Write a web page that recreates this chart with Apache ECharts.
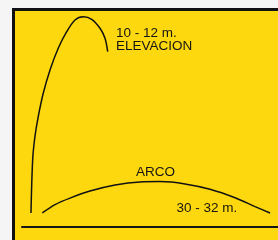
<!DOCTYPE html>
<html>
<head>
<meta charset="utf-8">
<script src="https://cdn.jsdelivr.net/npm/echarts@6/dist/echarts.min.js"></script>
<style>
  html, body { margin: 0; padding: 0; background: #f5f5f5; }
  #chart { width: 278px; height: 240px; }
</style>
</head>
<body>
<div id="chart"></div>
<script>
// trayectoria en metros [distancia, altura]
const elevacion = [
    [0, 0], [0.23, 3.25], [0.54, 4.67], [0.99, 5.9], [1.67, 7.33],
    [2.59, 8.76], [3.71, 10.09], [4.86, 11.1], [5.99, 11.82], [7.12, 12.02],
    [8.26, 11.86], [9.39, 11.31], [10.07, 10.7], [10.44, 9.88]
];
const arco = [
    [1.54, 0], [3.27, 0.51], [5.31, 0.91], [8.03, 1.34], [11.43, 1.71],
    [14.83, 1.9], [17.55, 1.92], [20.95, 1.78], [24.35, 1.45], [27.76, 0.93],
    [30.48, 0.39], [32.52, 0]
];
const labelElevacion = ['10 - 12 m.', 'ELEVACION'];
const labelArco = 'ARCO';
const labelDistancia = '30 - 32 m.';

const chart = echarts.init(document.getElementById('chart'));
const font = { fontFamily: 'Liberation Sans, Arial, sans-serif', fontSize: 13.5, fill: '#151515' };

function txt(text, x, y) {
    return {
        type: 'text', x: x, y: y, z: 10,
        style: Object.assign({ text: text, verticalAlign: 'middle' }, font)
    };
}

chart.setOption({
    animation: false,
    grid: { left: 22, right: 0, top: 11, bottom: 13 },
    xAxis: {
        type: 'value', min: -1.22, max: 33.6,
        axisLine: { show: true, onZero: false, lineStyle: { color: '#151515', width: 2 } },
        axisTick: { show: false }, axisLabel: { show: false }, splitLine: { show: false }
    },
    yAxis: {
        type: 'value', min: -0.86, max: 12.37, show: false
    },
    graphic: [
        {
            type: 'rect', z: -10,
            shape: { x: 13.5, y: 9.5, width: 300, height: 300 },
            style: { fill: '#fed80e', stroke: '#111', lineWidth: 3 }
        },
        txt(labelElevacion[0], 116, 33),
        txt(labelElevacion[1], 116, 46.5),
        txt(labelArco, 136, 172.5),
        txt(labelDistancia, 176.5, 208)
    ],
    series: [
        {
            name: 'elevacion', type: 'line', data: elevacion, smooth: 0.3,
            symbol: 'none', lineStyle: { color: '#111', width: 1.5 }
        },
        {
            name: 'arco', type: 'line', data: arco, smooth: 0.3,
            symbol: 'none', lineStyle: { color: '#111', width: 1.5 }
        }
    ]
});
</script>
</body>
</html>
